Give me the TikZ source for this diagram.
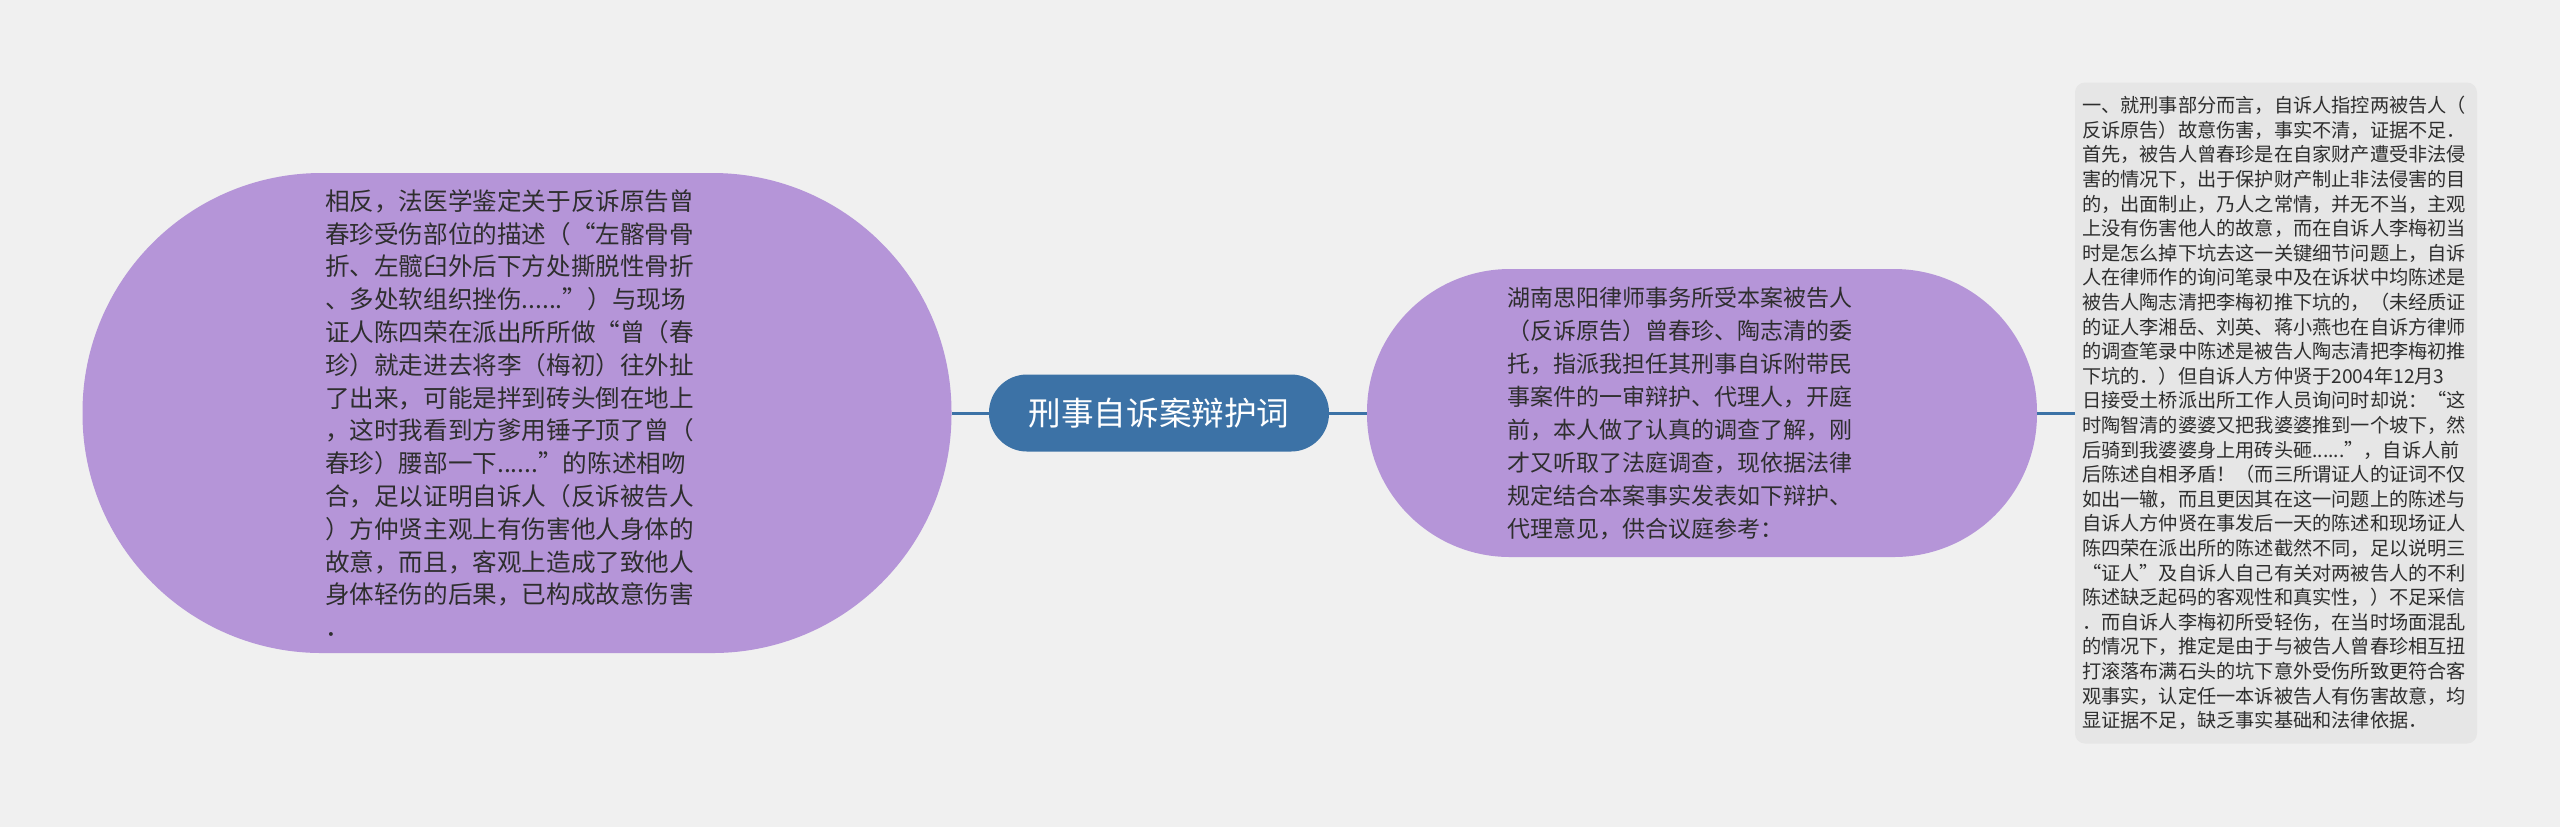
\documentclass[tikz,border=0pt]{standalone}
\usepackage{fontspec}
\setmainfont{Noto Sans CJK SC}
\usepackage{xcolor}
\usetikzlibrary{positioning}
\definecolor{sfondo}{HTML}{F0F0F0}
\definecolor{viola}{HTML}{B595D8}
\definecolor{blu}{HTML}{3C72A6}
\definecolor{grigio}{HTML}{E6E6E6}
\definecolor{testo}{HTML}{2E2E2E}

\begin{document}
\begin{tikzpicture}[x=0.5pt, y=-0.5pt,
		bolla/.style={fill=viola, rounded corners=#1, inner sep=0pt, text=testo, align=left},
		linea/.style={draw=blu, line width=1.5pt}]
		\useasboundingbox[fill=sfondo] (0,0) rectangle (2560,827);

		\node[fill=blu, rounded corners=19pt, inner sep=0pt, minimum width=170pt, minimum height=38.5pt, text=white,
			font=\fontsize{16.3}{18}\selectfont] (Bianhuci) at (1159,413) {刑事自诉案辩护词};

		\node[bolla=119.5pt, minimum width=434.5pt, minimum height=240pt, text width=192pt,
			font=\fontsize{12.3}{16.4}\selectfont] (Fazheng) at (517,413) {相反，法医学鉴定关于反诉原告曾\\
			春珍受伤部位的描述（“左髂骨骨\\
			折、左髋臼外后下方处撕脱性骨折\\
			、多处软组织挫伤......”）与现场\\
			证人陈四荣在派出所所做“曾（春\\
			珍）就走进去将李（梅初）往外扯\\
			了出来，可能是拌到砖头倒在地上\\
			，这时我看到方爹用锤子顶了曾（\\
			春珍）腰部一下......”的陈述相吻\\
			合，足以证明自诉人（反诉被告人\\
			）方仲贤主观上有伤害他人身体的\\
			故意，而且，客观上造成了致他人\\
			身体轻伤的后果，已构成故意伤害\\
			．};

		\node[bolla=71.5pt, minimum width=335pt, minimum height=144pt, text width=195pt,
			font=\fontsize{11.5}{16.5}\selectfont] (Weituo) at (1702,413) {湖南思阳律师事务所受本案被告人\\
			（反诉原告）曾春珍、陶志清的委\\
			托，指派我担任其刑事自诉附带民\\
			事案件的一审辩护、代理人，开庭\\
			前，本人做了认真的调查了解，刚\\
			才又听取了法庭调查，现依据法律\\
			规定结合本案事实发表如下辩护、\\
			代理意见，供合议庭参考：};

		\node[fill=grigio, rounded corners=5pt, inner sep=0pt, minimum width=201pt, minimum height=330.5pt,
			text width=194pt, align=left, text=testo,
			font=\fontsize{9.6}{12.3}\selectfont] (Xingshi bufen) at (2276,413) {一、就刑事部分而言，自诉人指控两被告人（\\
			反诉原告）故意伤害，事实不清，证据不足．\\
			首先，被告人曾春珍是在自家财产遭受非法侵\\
			害的情况下，出于保护财产制止非法侵害的目\\
			的，出面制止，乃人之常情，并无不当，主观\\
			上没有伤害他人的故意，而在自诉人李梅初当\\
			时是怎么掉下坑去这一关键细节问题上，自诉\\
			人在律师作的询问笔录中及在诉状中均陈述是\\
			被告人陶志清把李梅初推下坑的，（未经质证\\
			的证人李湘岳、刘英、蒋小燕也在自诉方律师\\
			的调查笔录中陈述是被告人陶志清把李梅初推\\
			下坑的．）但自诉人方仲贤于2004年12月3\\
			日接受土桥派出所工作人员询问时却说：“这\\
			时陶智清的婆婆又把我婆婆推到一个坡下，然\\
			后骑到我婆婆身上用砖头砸......”，自诉人前\\
			后陈述自相矛盾！（而三所谓证人的证词不仅\\
			如出一辙，而且更因其在这一问题上的陈述与\\
			自诉人方仲贤在事发后一天的陈述和现场证人\\
			陈四荣在派出所的陈述截然不同，足以说明三\\
			“证人”及自诉人自己有关对两被告人的不利\\
			陈述缺乏起码的客观性和真实性，）不足采信\\
			．而自诉人李梅初所受轻伤，在当时场面混乱\\
			的情况下，推定是由于与被告人曾春珍相互扭\\
			打滚落布满石头的坑下意外受伤所致更符合客\\
			观事实，认定任一本诉被告人有伤害故意，均\\
			显证据不足，缺乏事实基础和法律依据．};

		\draw[linea] (Fazheng) to (Bianhuci);
		\draw[linea] (Bianhuci) to (Weituo);
		\draw[linea] (Weituo) to (Xingshi bufen);
	\end{tikzpicture}
\end{document}
